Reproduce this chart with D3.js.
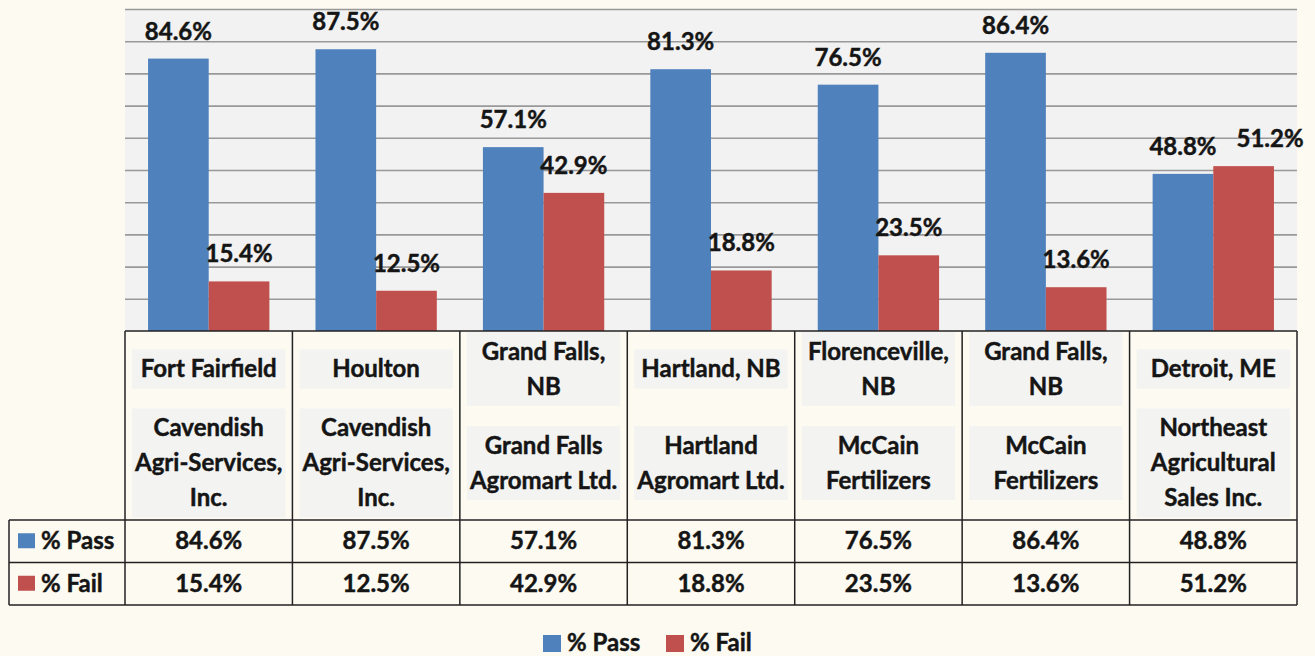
<!DOCTYPE html>
<html>
<head>
<meta charset="utf-8">
<script src="https://cdn.jsdelivr.net/npm/d3@7"></script>
<style>
  body { margin: 0; background: #fdfaf1; }
  svg text { font-family: Lato, "Open Sans", sans-serif; font-weight: bold; fill: #151515;
             stroke: #151515; stroke-width: 0.45px; }
</style>
</head>
<body>
<div id="viz"><svg width="1315" height="656"></svg></div>
<script>
// chart data
const locations = [["Fort Fairfield"], ["Houlton"], ["Grand Falls,", "NB"], ["Hartland, NB"],
                   ["Florenceville,", "NB"], ["Grand Falls,", "NB"], ["Detroit, ME"]]
const companies = [["Cavendish", "Agri-Services,", "Inc."], ["Cavendish", "Agri-Services,", "Inc."],
                   ["Grand Falls", "Agromart Ltd."], ["Hartland", "Agromart Ltd."],
                   ["McCain", "Fertilizers"], ["McCain", "Fertilizers"],
                   ["Northeast", "Agricultural", "Sales Inc."]]
const passValues = [84.6, 87.5, 57.1, 81.3, 76.5, 86.4, 48.8]
const failValues = [15.4, 12.5, 42.9, 18.8, 23.5, 13.6, 51.2]
const seriesNames = ["% Pass", "% Fail"]
const seriesColors = ["#4f81bd", "#c0504d"]
const yTicks = [0, 10, 20, 30, 40, 50, 60, 70, 80, 90, 100]

const plotLeft = 125, plotRight = 1297, plotTop = 9, plotBottom = 331
const legendLeft = 9
const headerBottom = 520, rowH = 42.5
const fontSize = 24, lineH = 35

const svg = d3.select("#viz").select("svg")
const cols = d3.range(passValues.length)
const series = [passValues, failValues]

const x = d3.scaleBand().domain(cols).range([plotLeft, plotRight])
const x1 = d3.scaleBand().domain([0, 1]).range([0, x.bandwidth()]).paddingOuter(0.38)
const y = d3.scaleLinear().domain([0, 100]).range([plotBottom, plotTop])

// plot area
svg.append("rect")
    .attr("x", plotLeft).attr("y", plotTop)
    .attr("width", plotRight - plotLeft).attr("height", plotBottom - plotTop)
    .attr("fill", "#f2f2f2")

svg.append("g")
    .attr("transform", "translate(" + plotLeft + ",0)")
    .call(d3.axisLeft(y).tickValues(yTicks.slice(1)).tickSize(-(plotRight - plotLeft)).tickFormat(""))
    .call(g => g.select(".domain").remove())
    .call(g => g.selectAll("line").attr("stroke", "#999").attr("stroke-width", 1.6))

// bars
const groups = svg.selectAll("g.overallG")
    .data(cols)
    .enter()
    .append("g")
    .attr("class", "overallG")
    .attr("transform", i => "translate(" + x(i) + ",0)")

groups.selectAll("rect")
    .data(i => series.map((s, k) => ({k: k, v: s[i]})))
    .enter()
    .append("rect")
    .attr("x", d => x1(d.k))
    .attr("width", x1.bandwidth())
    .attr("y", d => y(d.v))
    .attr("height", d => plotBottom - y(d.v))
    .attr("fill", d => seriesColors[d.k])

groups.selectAll("text.val")
    .data(i => series.map((s, k) => ({k: k, v: s[i]})))
    .enter()
    .append("text")
    .attr("class", "val")
    .attr("x", d => x1(d.k) + x1.bandwidth() / 2)
    .attr("y", d => y(d.v) - 19)
    .attr("text-anchor", "middle")
    .attr("font-size", fontSize)
    .text(d => d.v.toFixed(1) + "%")

// push the second label aside when the two labels of a group collide
groups.each(function() {
    const labels = d3.select(this).selectAll("text.val").nodes()
    const a = labels[0].getBBox(), b = labels[1].getBBox()
    if (Math.abs(a.y - b.y) < fontSize && b.x < a.x + a.width + 20) {
        const shift = a.x + a.width + 20 - b.x
        d3.select(labels[1]).attr("x", +labels[1].getAttribute("x") + shift)
    }
})

// table
const table = svg.append("g")
const lineStyle = sel => sel.attr("stroke", "#222").attr("stroke-width", 1.5).attr("fill", "none")

function textBlock(g, lines, cy, cx, w) {
    const h = lines.length * lineH
    g.append("rect")
        .attr("x", cx - w / 2).attr("y", cy - h / 2 - 2)
        .attr("width", w).attr("height", h + 4)
        .attr("fill", "#eceef2").attr("opacity", 0.6)
    g.selectAll(null)
        .data(lines)
        .enter()
        .append("text")
        .attr("x", cx)
        .attr("y", (d, j) => cy - h / 2 + lineH * (j + 0.5) + 8)
        .attr("text-anchor", "middle")
        .attr("font-size", fontSize)
        .text(d => d)
}

cols.forEach(i => {
    const cx = x(i) + x.bandwidth() / 2
    const g = table.append("g")
    textBlock(g, locations[i], 369, cx, x.bandwidth() - 14)
    textBlock(g, companies[i], 463, cx, x.bandwidth() - 14)
    series.forEach((s, k) => {
        g.append("text")
            .attr("x", cx)
            .attr("y", headerBottom + rowH * (k + 0.5) + 8)
            .attr("text-anchor", "middle")
            .attr("font-size", fontSize)
            .text(s[i].toFixed(1) + "%")
    })
})

// table grid lines
const tableBottom = headerBottom + rowH * 2
x.domain().concat([cols.length]).forEach(i => {
    const xx = i < cols.length ? x(i) : plotRight
    table.append("line").call(lineStyle)
        .attr("x1", xx).attr("x2", xx).attr("y1", plotBottom).attr("y2", tableBottom)
})
table.append("line").call(lineStyle).attr("x1", plotLeft).attr("x2", plotRight).attr("y1", plotBottom).attr("y2", plotBottom)
d3.range(3).forEach(r => {
    table.append("line").call(lineStyle)
        .attr("x1", legendLeft).attr("x2", plotRight)
        .attr("y1", headerBottom + rowH * r).attr("y2", headerBottom + rowH * r)
})
table.append("line").call(lineStyle)
    .attr("x1", legendLeft).attr("x2", legendLeft).attr("y1", headerBottom).attr("y2", tableBottom)

// row keys
seriesNames.forEach((name, k) => {
    const cy = headerBottom + rowH * (k + 0.5)
    table.append("rect")
        .attr("x", 18).attr("y", cy - 8).attr("width", 17).attr("height", 15)
        .attr("fill", seriesColors[k])
    table.append("text")
        .attr("x", 41).attr("y", cy + 8)
        .attr("font-size", fontSize)
        .text(name)
})

// bottom legend
const legend = svg.append("g")
const legendX = [543, 666]
seriesNames.forEach((name, k) => {
    legend.append("rect")
        .attr("x", legendX[k]).attr("y", 635).attr("width", 18).attr("height", 17)
        .attr("fill", seriesColors[k])
    legend.append("text")
        .attr("x", legendX[k] + 24).attr("y", 651)
        .attr("font-size", fontSize)
        .text(name)
})
</script>
</body>
</html>
